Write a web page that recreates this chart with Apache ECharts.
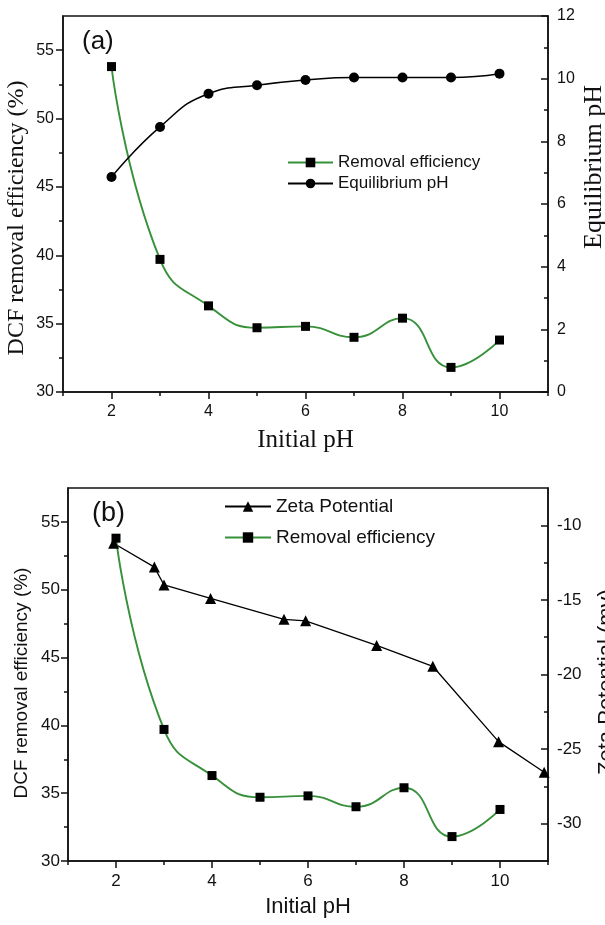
<!DOCTYPE html>
<html>
<head>
<meta charset="utf-8">
<script src="https://cdn.jsdelivr.net/npm/echarts@6/dist/echarts.min.js"></script>
<style>
  html, body { margin: 0; padding: 0; background: #fff; }
  #chart { width: 605px; height: 925px; }
</style>
</head>
<body>
<div id="chart"></div>
<script>
// data
var initialPH = [2, 3, 4, 5, 6, 7, 8, 9, 10];
var removalEff = [53.8, 39.7, 36.3, 34.7, 34.8, 34.0, 35.4, 31.8, 33.8];
var equilibriumPH = [6.86, 8.46, 9.52, 9.79, 9.96, 10.04, 10.04, 10.04, 10.16];
var zetaPH = [1.95, 2.8, 3.0, 3.97, 5.5, 5.95, 7.43, 8.6, 9.97, 10.92];
var zetaPotential = [-11.2, -12.8, -14.0, -14.9, -16.3, -16.4, -18.05, -19.45, -24.5, -26.55];

// tick values
var xMajor = [2, 4, 6, 8, 10];
var xMinor = [1, 3, 5, 7, 9, 11];
var effMajor = [30, 35, 40, 45, 50, 55];
var effMinor = [32.5, 37.5, 42.5, 47.5, 52.5];
var eqMajor = [0, 2, 4, 6, 8, 10, 12];
var eqMinor = [1, 3, 5, 7, 9, 11];
var zetaMajor = [-30, -25, -20, -15, -10];
var zetaMinor = [-27.5, -22.5, -17.5, -12.5];

var SANS = '"Liberation Sans", Arial, sans-serif';
var SERIF = '"Liberation Serif", "Times New Roman", serif';
var INK = '#111';
var GREEN = '#37913a';

function pairs(xs, ys) {
    return xs.map(function (x, i) { return [x, ys[i]]; });
}

// one axis = ticks (+ labels when major). minor ones are drawn on top, without line/labels
function axis(grid, pos, min, max, ticks, major, inside, fontSize, margin) {
    return {
        type: 'value',
        gridIndex: grid,
        position: pos,
        min: min,
        max: max,
        splitLine: { show: false },
        axisLine: { show: major, onZero: false, lineStyle: { color: INK, width: 1.5 } },
        axisTick: {
            show: true,
            inside: inside,
            length: major ? 7 : 4,
            customValues: ticks,
            lineStyle: { color: INK, width: 1.5 }
        },
        axisLabel: {
            show: major,
            customValues: ticks,
            margin: margin,
            fontSize: fontSize,
            fontFamily: SANS,
            color: INK
        }
    };
}

var chart = echarts.init(document.getElementById('chart'));

var xA = axis(0, 'bottom', 1, 11, xMajor, true, false, 16, 12);
xA.name = 'Initial pH';
xA.nameLocation = 'middle';
xA.nameGap = 36;
xA.nameTextStyle = { fontFamily: SERIF, fontSize: 25, color: INK };

var xB = axis(1, 'bottom', 1, 11, xMajor, true, false, 17, 12);
xB.name = 'Initial pH';
xB.nameLocation = 'middle';
xB.nameGap = 35;
xB.nameTextStyle = { fontFamily: SANS, fontSize: 22, color: INK };

var option = {
    animation: false,
    backgroundColor: '#fff',
    grid: [
        { left: 63, top: 16, width: 485, height: 376, show: true, borderColor: INK, borderWidth: 1.5 },
        { left: 68, top: 488, width: 480, height: 373, show: true, borderColor: INK, borderWidth: 1.5 }
    ],
    xAxis: [
        xA,
        axis(0, 'bottom', 1, 11, xMinor, false, false, 16, 12),
        xB,
        axis(1, 'bottom', 1, 11, xMinor, false, false, 17, 12)
    ],
    yAxis: [
        axis(0, 'left', 30, 57.5, effMajor, true, false, 16, 9),
        axis(0, 'left', 30, 57.5, effMinor, false, false, 16, 9),
        axis(0, 'right', 0, 12, eqMajor, true, true, 16, 9),
        axis(0, 'right', 0, 12, eqMinor, false, true, 16, 9),
        axis(1, 'left', 30, 57.5, effMajor, true, false, 17, 8),
        axis(1, 'left', 30, 57.5, effMinor, false, false, 17, 8),
        axis(1, 'right', -32.5, -7.5, zetaMajor, true, true, 17, 9),
        axis(1, 'right', -32.5, -7.5, zetaMinor, false, true, 17, 9)
    ],
    legend: [
        {
            orient: 'vertical', left: 287, top: 154, padding: 0, itemWidth: 45, itemHeight: 12, itemGap: 4,
            selectedMode: false,
            data: ['Removal efficiency', 'Equilibrium pH'],
            textStyle: { fontFamily: SANS, fontSize: 17, lineHeight: 17, color: INK }
        },
        {
            orient: 'vertical', left: 224, top: 497, padding: 0, itemWidth: 46, itemHeight: 13, itemGap: 12,
            selectedMode: false,
            data: ['Zeta Potential', 'Removal efficiency'],
            textStyle: { fontFamily: SANS, fontSize: 19, lineHeight: 19, color: INK }
        }
    ],
    graphic: [
        { type: 'text', x: 82, y: 42, style: { text: '(a)', font: '26px ' + SANS, fill: INK, textVerticalAlign: 'middle', verticalAlign: 'middle' } },
        { type: 'text', x: 92, y: 514, style: { text: '(b)', font: '27px ' + SANS, fill: INK, textVerticalAlign: 'middle', verticalAlign: 'middle' } },
        { type: 'text', x: 17, y: 218, rotation: Math.PI / 2, style: { text: 'DCF removal efficiency (%)', font: '24px ' + SERIF, fill: INK, textAlign: 'center', align: 'center', textVerticalAlign: 'middle', verticalAlign: 'middle' } },
        { type: 'text', x: 594, y: 167, rotation: Math.PI / 2, style: { text: 'Equilibrium pH', font: '26px ' + SERIF, fill: INK, textAlign: 'center', align: 'center', textVerticalAlign: 'middle', verticalAlign: 'middle' } },
        { type: 'text', x: 22, y: 683, rotation: Math.PI / 2, style: { text: 'DCF removal efficiency (%)', font: '19px ' + SANS, fill: INK, textAlign: 'center', align: 'center', textVerticalAlign: 'middle', verticalAlign: 'middle' } },
        { type: 'text', x: 607, y: 682, rotation: Math.PI / 2, style: { text: 'Zeta Potential (mv)', font: '22px ' + SANS, fill: INK, textAlign: 'center', align: 'center', textVerticalAlign: 'middle', verticalAlign: 'middle' } }
    ],
    series: [
        {
            name: 'Removal efficiency', type: 'line', xAxisIndex: 0, yAxisIndex: 0,
            data: pairs(initialPH, removalEff), smooth: true,
            symbol: 'rect', symbolSize: 9,
            itemStyle: { color: '#000' }, lineStyle: { color: GREEN, width: 1.9 }
        },
        {
            name: 'Equilibrium pH', type: 'line', xAxisIndex: 0, yAxisIndex: 2,
            data: pairs(initialPH, equilibriumPH), smooth: true,
            symbol: 'circle', symbolSize: 10,
            itemStyle: { color: '#000' }, lineStyle: { color: '#000', width: 1.5 }
        },
        {
            name: 'Zeta Potential', type: 'line', xAxisIndex: 2, yAxisIndex: 6,
            data: pairs(zetaPH, zetaPotential),
            symbol: 'triangle', symbolSize: 11,
            itemStyle: { color: '#000' }, lineStyle: { color: '#000', width: 1.3 }
        },
        {
            name: 'Removal efficiency', type: 'line', xAxisIndex: 2, yAxisIndex: 4,
            data: pairs(initialPH, removalEff), smooth: true,
            symbol: 'rect', symbolSize: 9,
            itemStyle: { color: '#000' }, lineStyle: { color: GREEN, width: 1.9 }
        }
    ]
};

option && chart.setOption(option);
</script>
</body>
</html>
